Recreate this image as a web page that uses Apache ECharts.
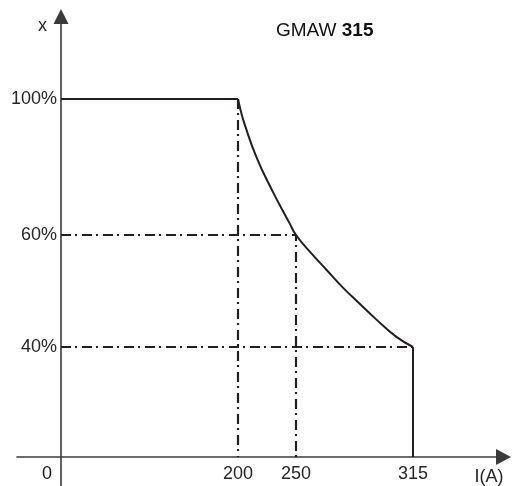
<!DOCTYPE html>
<html><head><meta charset="utf-8">
<script src="https://cdn.jsdelivr.net/npm/echarts@6/dist/echarts.min.js"></script>
<style>html,body{margin:0;padding:0;background:#fff}#c{width:513px;height:486px}</style>
</head><body><div id="c"></div>
<script>
// ---- data ----
const titleModel = 'GMAW';
const titleRating = '315';
const currentTicks = [0, 200, 250, 315];      // I (A)
const dutyTicks = [0, 40, 60, 100];           // duty cycle x (%)
const ratedLine = [[0, 100], [200, 100]];
const curvePoints = [[200, 100], [202.2, 96.8], [205.4, 92.9], [215.9, 82.9], [229.3, 73.2],
  [244.4, 63.5], [250, 60], [258.3, 56.8], [266.9, 53.8], [275.8, 50.7], [284.8, 47.9],
  [295, 44.8], [305.8, 41.8], [315, 40]];
const maxCurrentDrop = [[315, 40], [315, 0]];
const guide200 = [[200, 100], [200, 0]];
const guide60 = [[0, 60], [250, 60], [250, 0]];
const guide40 = [[0, 40], [315, 40]];

// ---- schematic (non-uniform) axis layout of the original figure ----
const currentTickPos = [0, 177, 235, 352];
const dutyTickPos = [0, 110, 222, 358];
function interp(v, src, dst) {
  for (let i = 1; i < src.length; i++) {
    if (v <= src[i] || i === src.length - 1) {
      const t = (v - src[i - 1]) / (src[i] - src[i - 1]);
      return dst[i - 1] + t * (dst[i] - dst[i - 1]);
    }
  }
}
const X = v => interp(v, currentTicks, currentTickPos);
const Y = v => interp(v, dutyTicks, dutyTickPos);
const toXY = pts => pts.map(p => [X(p[0]), Y(p[1])]);
const near = (arr, v) => arr.findIndex(a => Math.abs(a - v) < 0.5);

const FONT = 'Liberation Sans, Arial, sans-serif';
const INK = '#231f20';
const AXIS = '#3a3a3a';
const X_MIN = -44, X_MAX = 442.5, Y_MIN = -29, Y_MAX = 440.5;

const chart = echarts.init(document.getElementById('c'), null, {renderer: 'canvas'});
const solid = {color: INK, width: 2};
const dashDot = {color: INK, width: 2.2, type: [10, 4, 2, 5]};
const mk = (data, style, smooth, z) => ({
  type: 'line', data: toXY(data), symbol: 'none', smooth: smooth || false,
  xAxisIndex: 0, yAxisIndex: 0,
  lineStyle: style, silent: true, z: z, animation: false
});
const labelStyle = {fontSize: 18, fontFamily: FONT, color: '#262626'};

chart.setOption({
  animation: false,
  title: {
    text: '{a|' + titleModel + '} {b|' + titleRating + '}',
    left: 271, top: 16,
    textStyle: {
      fontSize: 19, fontFamily: FONT, color: '#111', fontWeight: 'normal',
      rich: {
        a: {fontSize: 19, fontFamily: FONT, color: '#111', fontWeight: 'normal'},
        b: {fontSize: 19, fontFamily: FONT, color: '#111', fontWeight: 'bold'}
      }
    }
  },
  grid: {left: 17, right: 9.5, top: 16.5, bottom: 0, containLabel: false, outerBoundsMode: 'none'},
  xAxis: [{
    type: 'value', min: X_MIN, max: X_MAX,
    name: 'I(A)', nameLocation: 'end', nameGap: -14.5,
    nameTextStyle: Object.assign({align: 'center', verticalAlign: 'top', padding: [11, 0, 0, 0]}, labelStyle),
    axisLine: {onZero: true, symbol: ['none', 'triangle'], symbolSize: [16, 15], lineStyle: {color: AXIS, width: 1.6}},
    axisTick: {show: false}, splitLine: {show: false}, axisLabel: {show: false}
  }, {
    type: 'value', min: X_MIN, max: X_MAX, position: 'bottom', offset: Y_MIN,
    axisLine: {show: false, onZero: false}, axisTick: {show: false}, splitLine: {show: false},
    axisLabel: Object.assign({
      customValues: currentTickPos, margin: 8,
      formatter: v => {
        const i = near(currentTickPos, v);
        if (i === 0) return '{o|' + currentTicks[0] + '}';
        return i >= 0 ? String(currentTicks[i]) : '';
      },
      rich: {o: {fontSize: 18, fontFamily: FONT, color: '#1a1a1a', padding: [0, 28, 0, 0]}}
    }, labelStyle)
  }],
  yAxis: [{
    type: 'value', min: Y_MIN, max: Y_MAX,
    name: 'x', nameLocation: 'end', nameGap: -9.5,
    nameTextStyle: Object.assign({align: 'right', verticalAlign: 'middle', padding: [0, 14, 0, 0]}, labelStyle),
    axisLine: {onZero: true, symbol: ['none', 'triangle'], symbolSize: [15, 15], lineStyle: {color: AXIS, width: 1.6}},
    axisTick: {show: false}, splitLine: {show: false}, axisLabel: {show: false}
  }, {
    type: 'value', min: Y_MIN, max: Y_MAX, position: 'left', offset: X_MIN,
    axisLine: {show: false, onZero: false}, axisTick: {show: false}, splitLine: {show: false},
    axisLabel: Object.assign({
      customValues: dutyTickPos.slice(1), margin: 4,
      formatter: v => {
        const i = near(dutyTickPos, v);
        return i > 0 ? dutyTicks[i] + '%' : '';
      }
    }, labelStyle)
  }],
  series: [
    mk(guide200, dashDot, false, 2),
    mk(guide60, dashDot, false, 2),
    mk(guide40, dashDot, false, 2),
    mk(ratedLine, solid, false, 3),
    mk(curvePoints, solid, 0.5, 3),
    mk(maxCurrentDrop, solid, false, 3)
  ]
});
</script>
</body></html>
